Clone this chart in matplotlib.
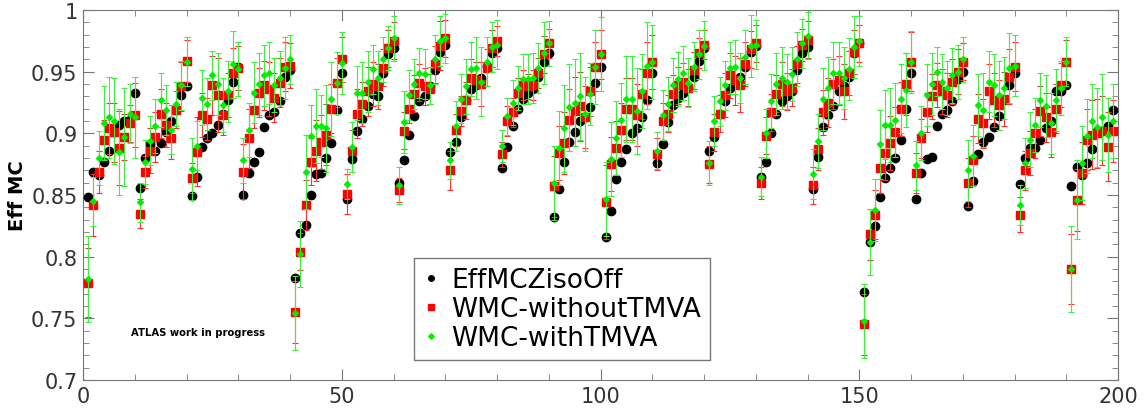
import matplotlib
matplotlib.use("Agg")
import matplotlib.pyplot as plt
from matplotlib.ticker import MultipleLocator
from matplotlib.lines import Line2D

x = list(range(1, 200))

eff_mc_ziso_off = [
    .848, .869, .866, .877, .886, .901, .907, .910, .911, .933,
    .856, .880, .891, .886, .892, .901, .910, .919, .931, .938,
    .849, .865, .889, .896, .900, .907, .916, .927, .942, .954,
    .850, .868, .877, .885, .905, .915, .917, .926, .946, .951,
    .783, .819, .826, .850, .867, .868, .880, .892, .919, .949,
    .847, .879, .902, .912, .922, .932, .930, .949, .964, .969,
    .860, .878, .899, .914, .926, .930, .938, .951, .966, .972,
    .885, .893, .913, .927, .936, .939, .945, .955, .965, .969,
    .872, .889, .906, .920, .928, .933, .936, .946, .958, .965,
    .832, .855, .877, .893, .901, .910, .913, .921, .941, .954,
    .816, .837, .863, .877, .887, .900, .904, .913, .927, .949,
    .876, .891, .909, .923, .929, .933, .937, .946, .959, .969,
    .886, .897, .916, .926, .937, .941, .946, .954, .966, .971,
    .865, .877, .900, .916, .926, .930, .934, .951, .965, .970,
    .855, .881, .905, .915, .922, .934, .938, .946, .965, .973,
    .771, .812, .825, .848, .864, .872, .880, .895, .920, .949,
    .847, .868, .879, .881, .906, .916, .919, .926, .944, .950,
    .841, .861, .883, .893, .897, .905, .914, .927, .939, .949,
    .859, .880, .888, .888, .895, .904, .910, .934, .934, .939,
    .857, .873, .866, .876, .887, .902, .902, .906, .919,
]

wmc_without_tmva = [
    .779, .842, .869, .895, .904, .901, .888, .897, .908, .915,
    .835, .869, .886, .897, .916, .907, .896, .919, .938, .959,
    .864, .885, .915, .912, .939, .931, .915, .931, .949, .953,
    .869, .896, .919, .933, .939, .936, .929, .941, .954, .955,
    .755, .804, .842, .877, .886, .893, .899, .920, .941, .960,
    .851, .886, .916, .924, .934, .940, .938, .953, .969, .975,
    .854, .902, .920, .932, .941, .938, .936, .956, .971, .977,
    .870, .903, .918, .927, .945, .943, .940, .953, .969, .975,
    .883, .910, .917, .933, .939, .938, .939, .949, .964, .973,
    .857, .884, .892, .911, .918, .922, .913, .934, .954, .964,
    .844, .875, .888, .903, .920, .920, .915, .932, .949, .958,
    .883, .910, .916, .932, .939, .942, .937, .951, .965, .972,
    .875, .901, .916, .931, .947, .943, .939, .956, .968, .973,
    .860, .898, .917, .932, .940, .934, .937, .956, .972, .976,
    .858, .887, .917, .925, .940, .943, .934, .949, .966, .973,
    .745, .818, .834, .872, .884, .892, .901, .920, .940, .958,
    .868, .896, .917, .930, .939, .934, .931, .942, .950, .958,
    .860, .878, .912, .908, .934, .927, .923, .928, .946, .954,
    .834, .870, .884, .900, .918, .913, .901, .920, .939, .958,
    .790, .846, .868, .895, .899, .900, .902, .889, .902,
]

wmc_with_tmva = [
    .782, .845, .880, .908, .913, .910, .885, .897, .916, .913,
    .844, .877, .894, .906, .927, .919, .903, .924, .939, .958,
    .871, .890, .929, .924, .947, .940, .923, .934, .956, .952,
    .878, .903, .933, .940, .947, .949, .939, .945, .953, .960,
    .754, .802, .869, .898, .906, .906, .904, .928, .941, .957,
    .859, .889, .933, .933, .942, .952, .945, .960, .969, .977,
    .858, .909, .931, .940, .949, .948, .939, .960, .975, .977,
    .878, .906, .928, .938, .952, .953, .942, .958, .970, .972,
    .890, .914, .925, .937, .944, .944, .945, .953, .965, .973,
    .860, .888, .904, .921, .925, .930, .916, .932, .954, .964,
    .847, .879, .896, .911, .928, .928, .918, .934, .955, .958,
    .886, .915, .924, .939, .944, .949, .941, .954, .964, .971,
    .876, .910, .926, .939, .953, .954, .945, .962, .971, .972,
    .865, .900, .926, .940, .945, .942, .948, .960, .973, .979,
    .867, .894, .928, .937, .949, .949, .945, .952, .970, .975,
    .748, .812, .838, .891, .907, .907, .911, .928, .935, .958,
    .874, .900, .931, .940, .950, .942, .937, .947, .950, .960,
    .870, .882, .923, .919, .942, .939, .931, .937, .953, .955,
    .842, .876, .895, .907, .927, .922, .908, .927, .937, .958,
    .790, .846, .876, .898, .910, .905, .913, .899, .910,
]

err_without_tmva = [
    .028, .025, .017, .016, .021, .024, .030, .019, .015, .026,
    .012, .013, .018, .020, .020, .018, .017, .015, .020, .017,
    .012, .028, .018, .017, .024, .030, .016, .018, .020, .018,
    .022, .024, .015, .020, .020, .022, .020, .020, .020, .018,
    .025, .015, .020, .019, .025, .022, .025, .020, .020, .018,
    .016, .017, .020, .018, .020, .018, .018, .015, .015, .015,
    .010, .015, .012, .015, .015, .015, .012, .015, .020, .015,
    .016, .013, .012, .015, .015, .015, .018, .015, .015, .012,
    .010, .012, .012, .012, .012, .010, .012, .012, .015, .012,
    .025, .022, .025, .025, .028, .028, .025, .020, .020, .020,
    .030, .022, .022, .022, .025, .025, .025, .020, .025, .022,
    .013, .015, .015, .015, .015, .015, .015, .015, .012, .012,
    .015, .015, .015, .018, .018, .020, .022, .018, .015, .015,
    .013, .015, .015, .015, .018, .015, .015, .015, .013, .015,
    .015, .017, .018, .020, .020, .020, .022, .018, .018, .015,
    .025, .021, .020, .020, .022, .022, .020, .022, .025, .024,
    .016, .016, .016, .018, .018, .018, .018, .018, .018, .015,
    .020, .020, .020, .020, .022, .022, .020, .022, .022, .020,
    .014, .016, .018, .020, .020, .020, .020, .020, .018, .018,
    .028, .025, .025, .025, .028, .028, .028, .028, .025,
]

err_with_tmva = [
    .035, .020, .022, .030, .033, .035, .035, .040, .024, .033,
    .016, .018, .020, .022, .022, .020, .020, .018, .020, .020,
    .025, .020, .022, .021, .020, .025, .022, .025, .027, .022,
    .018, .022, .025, .025, .025, .025, .022, .022, .025, .020,
    .030, .027, .030, .025, .030, .025, .035, .030, .025, .025,
    .012, .020, .022, .025, .025, .020, .022, .018, .018, .018,
    .015, .025, .020, .020, .020, .020, .015, .020, .020, .020,
    .015, .020, .020, .022, .022, .025, .028, .020, .020, .020,
    .013, .015, .018, .018, .020, .020, .020, .020, .025, .018,
    .030, .030, .035, .035, .035, .035, .030, .025, .030, .030,
    .030, .030, .030, .030, .035, .035, .035, .030, .035, .030,
    .015, .020, .022, .022, .022, .022, .020, .020, .020, .020,
    .018, .020, .020, .020, .021, .022, .020, .022, .025, .020,
    .016, .020, .022, .025, .025, .022, .022, .022, .020, .019,
    .020, .022, .025, .025, .025, .025, .025, .025, .025, .020,
    .030, .027, .025, .028, .028, .030, .030, .028, .030, .025,
    .020, .022, .025, .025, .020, .022, .022, .022, .022, .018,
    .025, .025, .025, .030, .025, .025, .028, .025, .028, .025,
    .016, .020, .022, .022, .022, .025, .025, .025, .022, .020,
    .035, .032, .030, .030, .030, .032, .035, .030, .030,
]

labels = ["EffMCZisoOff", "WMC-withoutTMVA", "WMC-withTMVA"]
ytick_vals = [0.7, 0.75, 0.8, 0.85, 0.9, 0.95, 1.0]
ytick_text = ["0.7", "0.75", "0.8", "0.85", "0.9", "0.95", "1"]

fig = plt.figure(figsize=(11.47, 4.10), dpi=100)
ax = fig.add_axes([83/1147, 1 - 381/410, (1118 - 83)/1147, (381 - 11)/410])

ax.plot(x, eff_mc_ziso_off, linestyle="none", marker="o", markersize=6,
        color="black", zorder=3)
ax.errorbar(x, wmc_without_tmva, yerr=err_without_tmva, fmt="s", markersize=5.5,
            color="#ff0000", ecolor="#ff3030", elinewidth=0.8, capsize=2.2,
            capthick=0.8, zorder=4)
ax.errorbar(x, wmc_with_tmva, yerr=err_with_tmva, fmt="D", markersize=3,
            color="#00ee00", ecolor="#3cf03c", elinewidth=0.8, capsize=2.2,
            capthick=0.8, zorder=5)

ax.set_xlim(0, 200)
ax.set_ylim(0.7, 1.0)
ax.xaxis.set_major_locator(MultipleLocator(50))
ax.xaxis.set_minor_locator(MultipleLocator(10))
ax.yaxis.set_minor_locator(MultipleLocator(0.01))
ax.set_yticks(ytick_vals)
ax.set_yticklabels(ytick_text)
ax.tick_params(which="both", direction="in", top=True, right=True,
               labelsize=15, color="#777777", labelcolor="#333333")
ax.tick_params(which="major", length=8, pad=4)
ax.tick_params(which="minor", length=4)
for s in ax.spines.values():
    s.set_color("#777777")

ax.set_ylabel("Eff MC", fontsize=14, fontweight="bold", labelpad=3)

ax.text(9.3, 0.739, "ATLAS work in progress", fontsize=7.2, fontweight="bold",
        va="center", ha="left")

handles = [
    Line2D([], [], linestyle="none", marker="o", markersize=4, color="black"),
    Line2D([], [], linestyle="none", marker="s", markersize=4.5, color="#ff0000"),
    Line2D([], [], linestyle="none", marker="D", markersize=2.8, color="#00ee00"),
]
leg = ax.legend(handles, labels, loc="lower left",
                bbox_to_anchor=((414 - 83) / 1035, (381 - 361) / 370),
                borderaxespad=0, fontsize=19, frameon=True, fancybox=False,
                handlelength=0.6, handletextpad=0.45, borderpad=0.35,
                labelspacing=0.1)
leg.get_frame().set_edgecolor("#555555")
leg.get_frame().set_linewidth(1.0)

fig.savefig("out.png", dpi=100)
